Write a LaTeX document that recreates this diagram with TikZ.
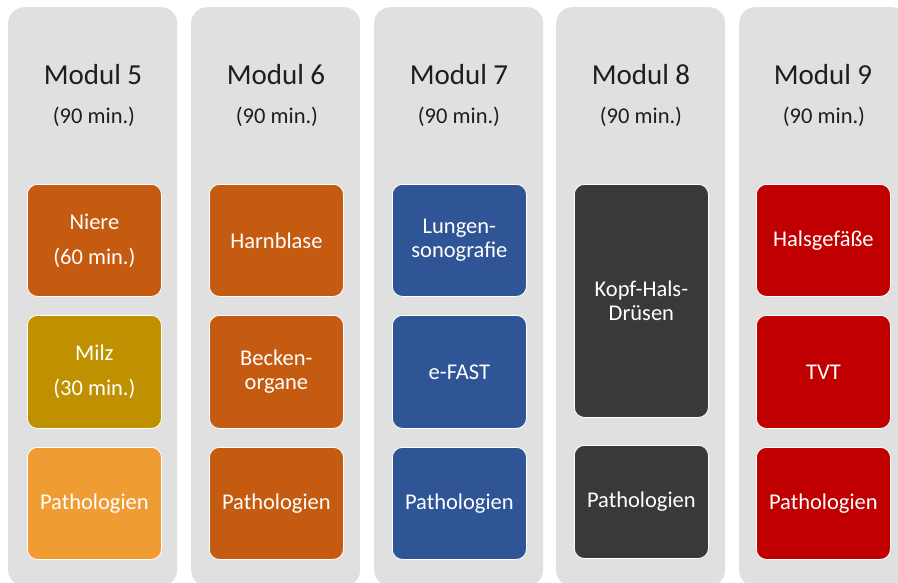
\documentclass[tikz,border=0pt]{standalone}
\usepackage{fontspec}
\setmainfont{Carlito}
\definecolor{colbg}{HTML}{E0E0E0}
\definecolor{dorange}{HTML}{C55A11}
\definecolor{gold}{HTML}{BF9000}
\definecolor{lorange}{HTML}{EF9C33}
\definecolor{dblue}{HTML}{2F5597}
\definecolor{dgray}{HTML}{3A3838}
\definecolor{dred}{HTML}{C00000}
\definecolor{titlegray}{HTML}{1E1E1E}
\begin{document}
\begin{tikzpicture}[x=1pt,y=-1pt,
  col/.style={fill=colbg, rounded corners=16pt, minimum width=169pt, minimum height=579pt, inner sep=0pt, anchor=north west},
  box/.style={rounded corners=10pt, draw=white, line width=0.8pt, minimum width=134pt, inner sep=0pt, text=white, font=\fontsize{22.5}{24}\selectfont, align=center, anchor=north west},
  ttl/.style={font=\fontsize{29}{30}\selectfont, text=titlegray},
  sub/.style={font=\fontsize{22.5}{24}\selectfont, text=titlegray}]
\useasboundingbox (0,0) rectangle (898,582);
\clip (0,0) rectangle (898,582);
% columns
\node[col] (c5) at (8,7) {};
\node[col] (c6) at (191,7) {};
\node[col] (c7) at (374,7) {};
\node[col] (c8) at (556,7) {};
\node[col] (c9) at (739,7) {};
% titles
\node[ttl] (t5) at (93,75) {Modul 5};
\node[ttl] (t6) at (276,75) {Modul 6};
\node[ttl] (t7) at (459,75) {Modul 7};
\node[ttl] (t8) at (641,75) {Modul 8};
\node[ttl] (t9) at (823,75) {Modul 9};
\node[sub] (s5) at (94,117) {(90 min.)};
\node[sub] (s6) at (277,117) {(90 min.)};
\node[sub] (s7) at (459,117) {(90 min.)};
\node[sub] (s8) at (641,117) {(90 min.)};
\node[sub] (s9) at (824,117) {(90 min.)};
% Modul 5
\node[box, fill=dorange, minimum height=112pt] (b51) at (27,184) {Niere\\[11pt](60 min.)};
\node[box, fill=gold, minimum height=113pt] (b52) at (27,315) {Milz\\[11pt](30 min.)};
\node[box, fill=lorange, minimum height=112pt] (b53) at (27,447) {Pathologien};
% Modul 6
\node[box, fill=dorange, minimum height=112pt] (b61) at (209,184) {Harnblase};
\node[box, fill=dorange, minimum height=113pt] (b62) at (209,315) {Becken-\\organe};
\node[box, fill=dorange, minimum height=112pt] (b63) at (209,447) {Pathologien};
% Modul 7
\node[box, fill=dblue, minimum height=112pt] (b71) at (392,184) {Lungen-\\sonografie};
\node[box, fill=dblue, minimum height=113pt] (b72) at (392,315) {e-FAST};
\node[box, fill=dblue, minimum height=112pt] (b73) at (392,447) {Pathologien};
% Modul 8
\node[box, fill=dgray, minimum height=233pt] (b81) at (574,184) {Kopf-Hals-\\Drüsen};
\node[box, fill=dgray, minimum height=113pt] (b82) at (574,445) {Pathologien};
% Modul 9
\node[box, fill=dred, minimum height=112pt] (b91) at (756,184) {Halsgefäße};
\node[box, fill=dred, minimum height=113pt] (b92) at (756,315) {TVT};
\node[box, fill=dred, minimum height=112pt] (b93) at (756,447) {Pathologien};
\end{tikzpicture}
\end{document}
